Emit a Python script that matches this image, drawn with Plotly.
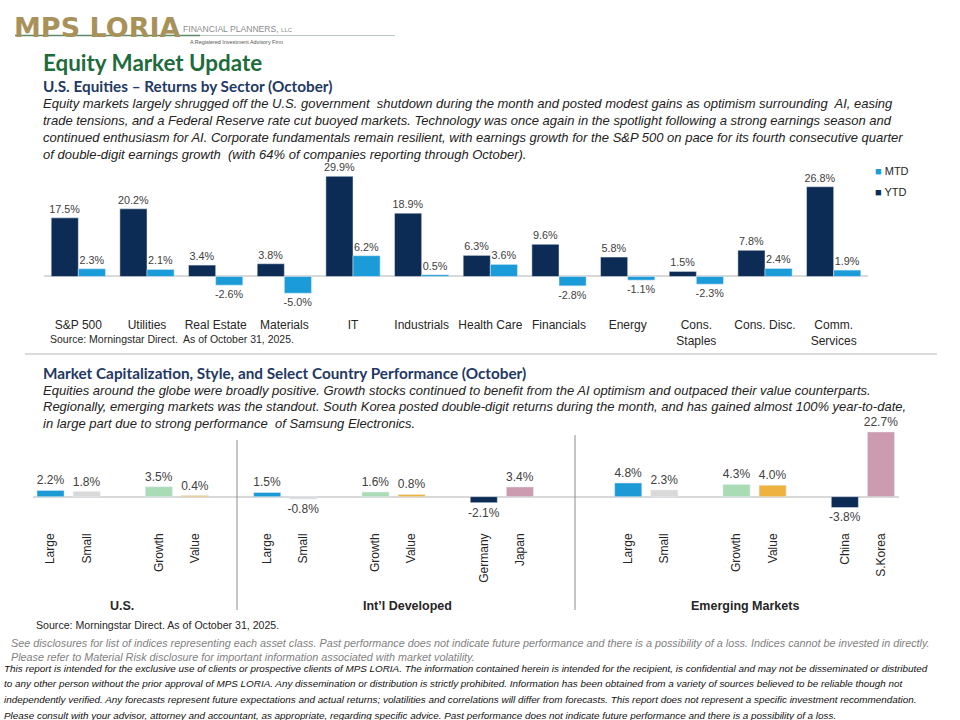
import plotly.graph_objects as go

# ---------------- data ----------------
sectors = ["S&P 500", "Utilities", "Real Estate", "Materials", "IT", "Industrials",
           "Health Care", "Financials", "Energy", "Cons.<br>Staples", "Cons. Disc.", "Comm.<br>Services"]
ytd = [17.5, 20.2, 3.4, 3.8, 29.9, 18.9, 6.3, 9.6, 5.8, 1.5, 7.8, 26.8]
mtd = [2.3, 2.1, -2.6, -5.0, 6.2, 0.5, 3.6, -2.8, -1.1, -2.3, 2.4, 1.9]

us_labels = ["Large", "Small", "Growth", "Value"]
us_values = [2.2, 1.8, 3.5, 0.4]
intl_labels = ["Large", "Small", "Growth", "Value", "Germany", "Japan"]
intl_values = [1.5, -0.8, 1.6, 0.8, -2.1, 3.4]
em_labels = ["Large", "Small", "Growth", "Value", "China", "S.Korea"]
em_values = [4.8, 2.3, 4.3, 4.0, -3.8, 22.7]
group_names = ["U.S.", "Int’l Developed", "Emerging Markets"]

# ---------------- styles ----------------
NAVY = "#0C2C56"
MTD_BLUE = "#1B9CD9"
C_LARGE = "#1B9AD6"
C_SMALL = "#D9D9D9"
C_GROWTH = "#A9DCB5"
C_VALUE = "#EEB33E"
C_C1 = "#0C2C56"
C_C2 = "#CC9BAF"
TXT = "#404040"
W, H = 960, 720


def px(x):
    return x / W


def py(y):
    return 1 - y / H


fig = go.Figure()

lab_font_top = dict(size=10.8, color=TXT, family="Liberation Sans, Arial")
# ---------------- top chart ----------------
fig.add_trace(go.Bar(x=sectors, y=ytd, name="YTD", marker_color=NAVY,
                     texttemplate="%{y:.1f}%", textposition="outside", constraintext="none",
                     outsidetextfont=lab_font_top, showlegend=False,
                     cliponaxis=False, xaxis="x", yaxis="y"))
fig.add_trace(go.Bar(x=sectors, y=mtd, name="MTD", marker_color=MTD_BLUE,
                     texttemplate="%{y:.1f}%", textposition="outside", constraintext="none",
                     outsidetextfont=lab_font_top, showlegend=False,
                     cliponaxis=False, xaxis="x", yaxis="y"))

# ---------------- bottom chart ----------------
keys, labels, values, colors = [], [], [], []
pair_colors = [C_LARGE, C_SMALL, C_GROWTH, C_VALUE, C_C1, C_C2]
spacer_count = [0]


def spacer():
    spacer_count[0] += 1
    keys.append(" " * spacer_count[0])


def add_group(prefix, labs, vals, extra_gap):
    for i, (lab, v) in enumerate(zip(labs, vals)):
        if i > 0 and i % 2 == 0:
            spacer()
        keys.append(prefix + lab)
        labels.append(lab)
        values.append(v)
        colors.append(pair_colors[i])
    for _ in range(extra_gap):
        spacer()


add_group("US_", us_labels, us_values, 1)
add_group("IN_", intl_labels, intl_values, 2)
add_group("EM_", em_labels, em_values, 0)

bar_keys = [k for k in keys if k.strip()]
fig.add_trace(go.Bar(x=bar_keys, y=values, marker_color=colors, showlegend=False, width=0.75,
                     texttemplate="%{y:.1f}%", textposition="outside", constraintext="none",
                     outsidetextfont=dict(size=12, color=TXT, family="Liberation Sans, Arial"),
                     cliponaxis=False, xaxis="x2", yaxis="y2"))

# ---------------- axes ----------------
axis_font = dict(size=12, color="#262626", family="Liberation Sans, Arial")
fig.update_layout(
    xaxis=dict(domain=[px(44), px(868)], type="category", showgrid=False, showline=False,
               ticks="", tickfont=axis_font, anchor="y", range=[-0.5, 11.5]),
    yaxis=dict(domain=[py(316), py(169.3)], range=[-11.8, 32], showgrid=False, showticklabels=False,
               zeroline=True, zerolinecolor="#D9D9D9", zerolinewidth=1.5, anchor="x"),
    xaxis2=dict(domain=[px(32.5), px(899)], type="category", categoryorder="array",
                categoryarray=keys, tickvals=bar_keys, ticktext=labels, tickangle=-90,
                showgrid=False, showline=False, ticks="", tickfont=axis_font, anchor="y2",
                range=[-0.5, 23.5]),
    yaxis2=dict(domain=[py(530), py(418)], range=[-11.7, 27.6], showgrid=False, showticklabels=False,
                zeroline=True, zerolinecolor="#D9D9D9", zerolinewidth=1.5, anchor="x2"),
    barmode="group", bargap=0.21, bargroupgap=0,
    width=W, height=H, margin=dict(l=0, r=0, t=0, b=0),
    paper_bgcolor="white", plot_bgcolor="white",
    font=dict(family="Liberation Sans, Arial", color="#262626"),
    showlegend=False,
)

# ---------------- shapes ----------------
shapes = [
    dict(type="line", xref="paper", yref="paper", x0=px(15), x1=px(200), y0=py(35.5), y1=py(35.5),
         line=dict(color="#5E8A6A", width=1.3)),
    dict(type="line", xref="paper", yref="paper", x0=px(200), x1=px(395), y0=py(35.5), y1=py(35.5),
         line=dict(color="#B9C9BD", width=1.2)),
    dict(type="line", xref="paper", yref="paper", x0=px(25), x1=px(937), y0=py(354), y1=py(354),
         line=dict(color="#CFCFCF", width=1.5)),
    dict(type="line", xref="paper", yref="paper", x0=px(237), x1=px(237), y0=py(440), y1=py(610),
         line=dict(color="#8C8C8C", width=1)),
    dict(type="line", xref="paper", yref="paper", x0=px(575), x1=px(575), y0=py(435), y1=py(610),
         line=dict(color="#8C8C8C", width=1)),
]
fig.update_layout(shapes=shapes)

# ---------------- text ----------------
ann = []


def text(x, y, s, size, color="#222222", family="Liberation Sans, Arial", xanchor="left"):
    ann.append(dict(x=px(x), y=py(y), xref="paper", yref="paper", text=s, showarrow=False,
                    xanchor=xanchor, yanchor="middle", align="left",
                    font=dict(size=size, color=color, family=family)))


# logo
text(12, 28, "<b>MPS LORIA</b>", 27, "#A8925A", "DejaVu Sans")
text(181, 29, "FINANCIAL PLANNERS, <span style='font-size:6px'>LLC</span>", 8.6, "#8C8C8C")
text(188, 42, "A Registered Investment Advisory Firm", 5.4, "#555555")

text(41, 62, "<b>Equity Market Update</b>", 22.4, "#1E6B3C", "Lato")
text(41, 86, "<b>U.S. Equities – Returns by Sector (October)</b>", 15.3, "#1F3864", "Lato")

top_body = [
    "Equity markets largely shrugged off the U.S. government  shutdown during the month and posted modest gains as optimism surrounding  AI, easing",
    "trade tensions, and a Federal Reserve rate cut buoyed markets. Technology was once again in the spotlight following a strong earnings season and",
    "continued enthusiasm for AI. Corporate fundamentals remain resilient, with earnings growth for the S&P 500 on pace for its fourth consecutive quarter",
    "of double-digit earnings growth  (with 64% of companies reporting through October).",
]
for i, line in enumerate(top_body):
    text(41, 104 + i * 16.8, "<i>" + line + "</i>", 13)

# legend (top chart)
text(873, 171, "<span style='color:%s'>■</span> MTD" % MTD_BLUE, 11, "#262626")
text(873, 192, "<span style='color:%s'>■</span> YTD" % NAVY, 11, "#262626")

text(48, 339, "Source: Morningstar Direct.  As of October 31, 2025.", 10.5, "#262626")

text(41, 373, "<b>Market Capitalization, Style, and Select Country Performance (October)</b>", 15.3, "#1F3864", "Lato")
bottom_body = [
    "Equities around the globe were broadly positive. Growth stocks continued to benefit from the AI optimism and outpaced their value counterparts.",
    "Regionally, emerging markets was the standout. South Korea posted double-digit returns during the month, and has gained almost 100% year-to-date,",
    "in large part due to strong performance  of Samsung Electronics.",
]
for i, line in enumerate(bottom_body):
    text(41, 390 + i * 16.6, "<i>" + line + "</i>", 13)

for gx, gname in zip([122, 407, 745], group_names):
    text(gx, 606, "<b>" + gname + "</b>", 12.5, "#262626", xanchor="center")

text(34, 625, "Source: Morningstar Direct. As of October 31, 2025.", 10.6, "#262626")
text(9, 643, "<i>See disclosures for list of indices representing each asset class. Past performance does not indicate future performance and there is a possibility of a loss. Indices cannot be invested in directly.</i>",
     10.8, "#7F7F7F")
text(9, 657, "<i>Please refer to Material Risk disclosure for important information associated with market volatility.</i>",
     10.8, "#7F7F7F")
footer = [
    "This report is intended for the exclusive use of clients or prospective clients of MPS LORIA. The information contained herein is intended for the recipient, is confidential and may not be disseminated or distributed",
    "to any other person without the prior approval of MPS LORIA. Any dissemination or distribution is strictly prohibited. Information has been obtained from a variety of sources believed to be reliable though not",
    "independently verified. Any forecasts represent future expectations and actual returns; volatilities and correlations will differ from forecasts. This report does not represent a specific investment recommendation.",
    "Please consult with your advisor, attorney and accountant, as appropriate, regarding specific advice. Past performance does not indicate future performance and there is a possibility of a loss.",
]
for i, line in enumerate(footer):
    text(2, 668 + i * 15.8, "<i>" + line + "</i>", 9.9, "#111111")

fig.update_layout(annotations=ann)
fig.write_html("out.html", config={"displayModeBar": False},
               post_script="document.body.style.margin='0';document.body.style.padding='0';")
